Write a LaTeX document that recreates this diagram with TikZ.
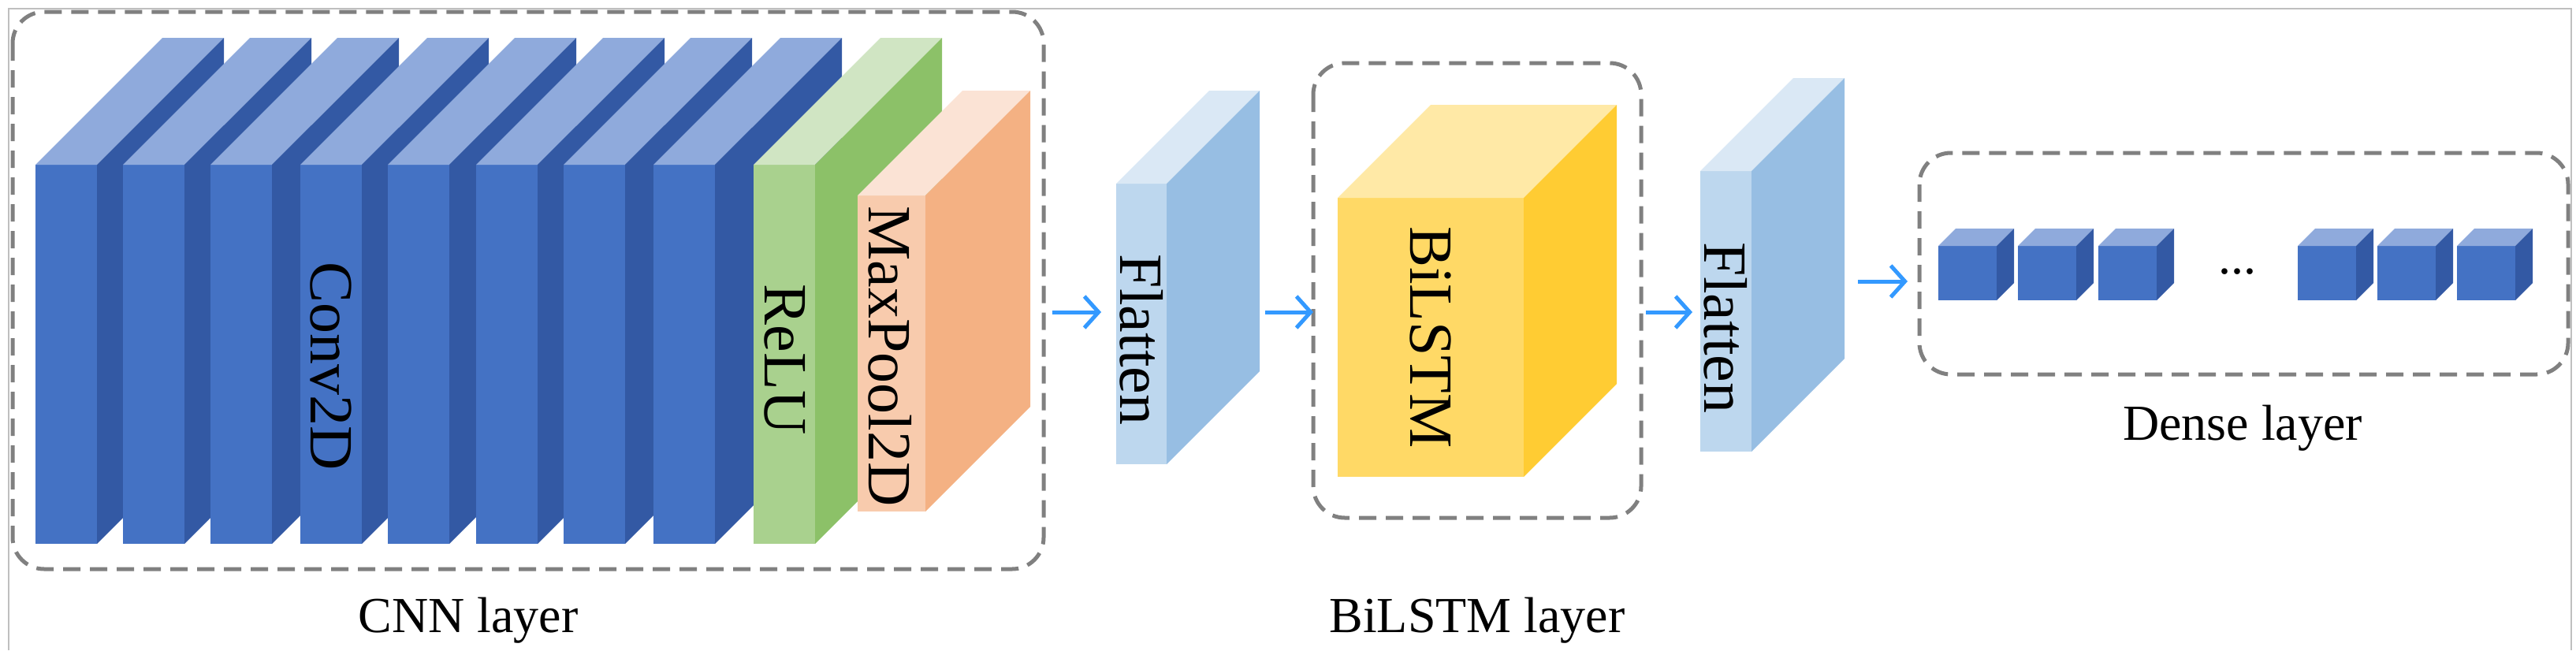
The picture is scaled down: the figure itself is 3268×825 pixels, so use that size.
\documentclass[tikz,border=0pt]{standalone}
\usepackage{fontspec}
\setmainfont{Liberation Serif}
\usetikzlibrary{arrows.meta}
\definecolor{cf}{HTML}{4472C4}\definecolor{cs}{HTML}{3359A4}\definecolor{ct}{HTML}{8FAADC}
\definecolor{rf}{HTML}{A9D18E}\definecolor{rs}{HTML}{8CC168}\definecolor{rt}{HTML}{D0E5C3}
\definecolor{mf}{HTML}{F8CBAD}\definecolor{ms}{HTML}{F4B183}\definecolor{mt}{HTML}{FBE3D5}
\definecolor{ff}{HTML}{BDD7EE}\definecolor{fs}{HTML}{97BEE3}\definecolor{ft}{HTML}{DAE8F5}
\definecolor{bf}{HTML}{FFD966}\definecolor{bs}{HTML}{FFCC33}\definecolor{bt}{HTML}{FFE9A6}
\definecolor{arr}{HTML}{3399FF}
\newcommand{\blk}[8]{% x ytop w h d front side top
 \fill[#6] (#1,#2) rectangle ++(#3,#4);
 \fill[#8] (#1,#2) -- ++(#5,-#5) -- ++(#3,0) -- ++(-#5,#5) -- cycle;
 \fill[#7] (#1+#3,#2) -- ++(#5,-#5) -- ++(0,#4) -- ++(-#5,#5) -- cycle;}
\tikzset{
 grp/.style={draw=black!50,line width=5pt,dash pattern=on 22pt off 12pt,rounded corners=40pt},
 lbl/.style={font=\fontsize{64}{70}\selectfont},
 vl/.style={rotate=-90,font=\fontsize{78}{80}\selectfont},
 ar/.style={draw=arr,line width=5pt,-{Straight Barb[length=18pt,width=40pt,line width=5pt]}}
}
\begin{document}
\begin{tikzpicture}[x=1pt,y=-1pt]
\useasboundingbox (0,0) rectangle (3268,825);
\draw[black!25,line width=2pt] (11,825) -- (11,11) -- (3262,11) -- (3262,825);
\draw[grp] (16,15) rectangle (1324,722);
\foreach \x in {45,156,267,381,492,604,715,829}{\blk{\x}{209}{78}{481}{161}{cf}{cs}{ct}}
\blk{956}{209}{78}{481}{161}{rf}{rs}{rt}
\blk{1088}{248}{86}{401}{133}{mf}{ms}{mt}
\blk{1416}{233}{64}{356}{118}{ff}{fs}{ft}
\draw[grp] (1666,80) rectangle (2082,657);
\blk{1697}{251}{236}{354}{118}{bf}{bs}{bt}
\blk{2157}{217}{65}{356}{118}{ff}{fs}{ft}
\draw[grp] (2435,194) rectangle (3258,475);
\foreach \x in {2459,2560,2662,2915,3016,3117}{\blk{\x}{312}{74}{69}{22}{cf}{cs}{ct}}
\node[vl] (conv) at (420,465) {Conv2D};
\node[vl] (relu) at (996,456) {ReLU};
\node[vl] (mp) at (1129,452) {MaxPool2D};
\node[vl] (fl1) at (1448,431) {Flatten};
\node[vl] (bl) at (1815,428) {BiLSTM};
\node[vl] (fl2) at (2189,416) {Flatten};
\node[lbl] (dots) at (2838,345) {...};
\node[lbl] (cnnl) at (594,787) {CNN layer};
\node[lbl] (bil) at (1874,787) {BiLSTM layer};
\node[lbl] (dl) at (2845,543) {Dense layer};
\coordinate (a1) at (1335,396); \coordinate (b1) at (1397,396);
\coordinate (a2) at (1605,396); \coordinate (b2) at (1666,396);
\coordinate (a3) at (2088,396); \coordinate (b3) at (2147,396);
\coordinate (a4) at (2357,357); \coordinate (b4) at (2420,357);
\draw[ar] (a1) -- (b1); \draw[ar] (a2) -- (b2); \draw[ar] (a3) -- (b3); \draw[ar] (a4) -- (b4);
\end{tikzpicture}
\end{document}
